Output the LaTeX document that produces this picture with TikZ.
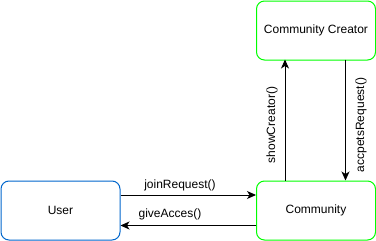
\documentclass[tikz,border=0pt]{standalone}
\usepackage{fontspec}
\setmainfont{Liberation Sans}
\usetikzlibrary{arrows.meta}
\definecolor{userblue}{RGB}{0,102,204}
\definecolor{commgreen}{RGB}{0,255,0}
\begin{document}
\begin{tikzpicture}[x=1pt,y=-1pt,
  box/.style={draw, rounded corners=8pt, line width=1pt, minimum width=119pt,
    minimum height=59pt, inner sep=0pt, font=\fontsize{12}{14}\selectfont, anchor=north west},
  link/.style={draw, line width=1pt, -{Stealth[length=9pt,width=8pt,inset=2.5pt]}},
  lbl/.style={font=\fontsize{12}{14}\selectfont, inner sep=0pt}]
\useasboundingbox (0,0) rectangle (376,241);
\node[box, draw=userblue] (user) at (0.5,180.5) {User};
\node[box, draw=commgreen] (comm) at (256,180.5) {Community};
\node[box, draw=commgreen] (creator) at (256,0.5) {Community Creator};
% horizontal messages between User and Community
\coordinate (j1) at (user.east |- 0,195);
\coordinate (j2) at (comm.west |- 0,195);
\coordinate (g1) at (comm.west |- 0,225.5);
\coordinate (g2) at (user.east |- 0,225.5);
\draw[link] (j1) -- (j2);
\draw[link] (g1) -- (g2);
\node[lbl] (jl) at (180,185) {joinRequest()};
\node[lbl] (gl) at (170,214) {giveAcces()};
% vertical messages between Community and Community Creator
\coordinate (s1) at (285,180.5);
\coordinate (s2) at (285,59.5);
\coordinate (a1) at (345.5,59.5);
\coordinate (a2) at (345.5,180.5);
\draw[link] (s1) -- (s2);
\draw[link] (a1) -- (a2);
\node[lbl, rotate=90] (sl) at (272,125) {showCreator()};
\node[lbl, rotate=90] (al) at (361,125) {accpetsRequest()};
\end{tikzpicture}
\end{document}
